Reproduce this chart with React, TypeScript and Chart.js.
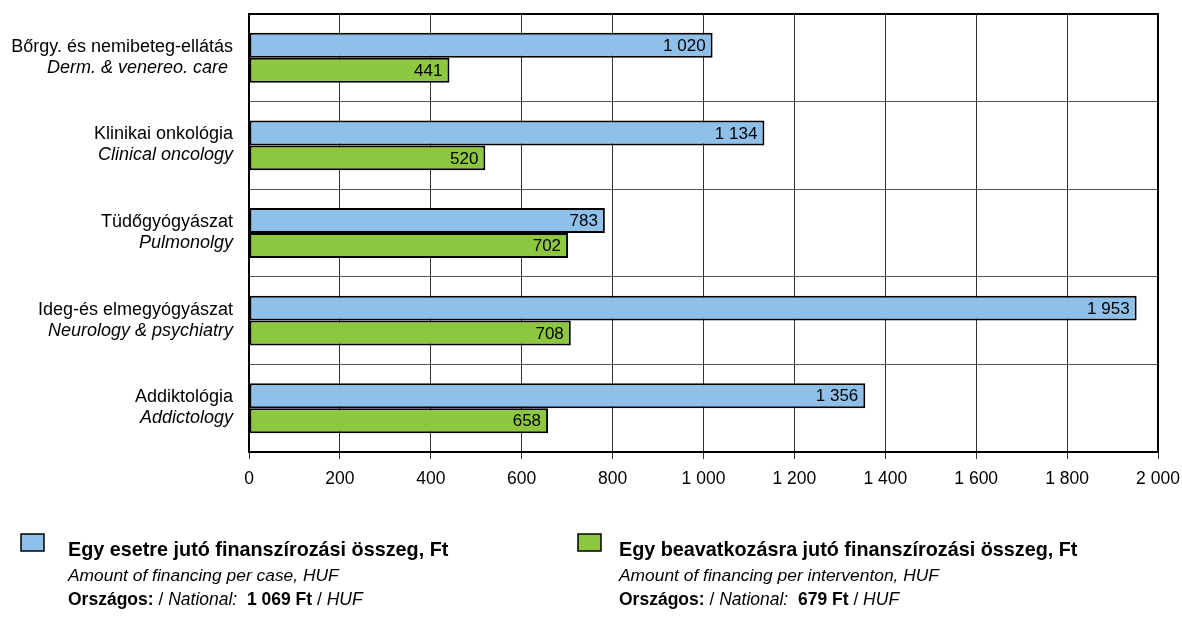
import React, { useEffect, useRef } from 'react';
import { Chart, registerables } from 'chart.js';

Chart.register(...registerables);

const categoriesHu = [
  'Bőrgy. és nemibeteg-ellátás',
  'Klinikai onkológia',
  'Tüdőgyógyászat',
  'Ideg-és elmegyógyászat',
  'Addiktológia',
];
const categoriesEn = [
  'Derm. & venereo. care ',
  'Clinical oncology',
  'Pulmonolgy',
  'Neurology & psychiatry',
  'Addictology',
];
const perCase = [1020, 1134, 783, 1953, 1356];
const perIntervention = [441, 520, 702, 708, 658];
const xMin = 0;
const xMax = 2000;
const xStep = 200;

const seriesTitles = [
  'Egy esetre jutó finanszírozási összeg, Ft',
  'Egy beavatkozásra jutó finanszírozási összeg, Ft',
];
const seriesSubtitles = [
  'Amount of financing per case, HUF',
  'Amount of financing per interventon, HUF',
];
const nationalValues = ['1 069 Ft', '679 Ft'];

const FONT = '"Liberation Sans", Arial, Helvetica, sans-serif';
const BLUE = '#8EC0E9';
const GREEN = '#8DC63F';

const fmt = (v: number) => String(v).replace(/\B(?=(\d{3})+(?!\d))/g, ' ');

const yLabelPlugin = {
  id: 'yLabels',
  afterDraw(chart: any) {
    const ctx = chart.ctx;
    const y = chart.scales.y;
    ctx.save();
    ctx.fillStyle = '#000';
    ctx.textAlign = 'right';
    ctx.textBaseline = 'middle';
    const xr = chart.chartArea.left - 16;
    categoriesHu.forEach((lab, i) => {
      const cy = y.getPixelForValue(i);
      ctx.font = `18px ${FONT}`;
      ctx.fillText(lab, xr, cy - 11);
      ctx.font = `italic 18px ${FONT}`;
      ctx.fillText(categoriesEn[i], xr, cy + 10);
    });
    ctx.restore();
  },
};

const valueLabelPlugin = {
  id: 'valueLabels',
  afterDatasetsDraw(chart: any) {
    const ctx = chart.ctx;
    ctx.save();
    ctx.fillStyle = '#000';
    ctx.textAlign = 'right';
    ctx.textBaseline = 'middle';
    ctx.font = `17px ${FONT}`;
    chart.data.datasets.forEach((ds: any, di: number) => {
      const meta = chart.getDatasetMeta(di);
      meta.data.forEach((el: any, i: number) => {
        ctx.fillText(fmt(ds.data[i]), el.x - 7, el.y + 1);
      });
    });
    ctx.restore();
  },
};

const framePlugin = {
  id: 'frame',
  afterDraw(chart: any) {
    const { left, right, top, bottom } = chart.chartArea;
    const ctx = chart.ctx;
    ctx.save();
    ctx.strokeStyle = '#000';
    ctx.lineWidth = 2;
    ctx.strokeRect(left, top, right - left, bottom - top);
    ctx.restore();
  },
};

const legendPlugin = {
  id: 'customLegend',
  afterDraw(chart: any) {
    const ctx = chart.ctx;
    const starts = [21, 578];
    const textX = [68, 619];
    ctx.save();
    chart.data.datasets.forEach((ds: any, i: number) => {
      const sx = starts[i];
      ctx.fillStyle = ds.backgroundColor;
      ctx.fillRect(sx, 534, 23, 17);
      ctx.strokeStyle = '#000';
      ctx.lineWidth = 1.5;
      ctx.strokeRect(sx, 534, 23, 17);
      ctx.fillStyle = '#000';
      ctx.textAlign = 'left';
      ctx.textBaseline = 'alphabetic';
      const tx = textX[i];
      ctx.font = `bold 19.8px ${FONT}`;
      ctx.fillText(seriesTitles[i], tx, 556);
      ctx.font = `italic 17.4px ${FONT}`;
      ctx.fillText(seriesSubtitles[i], tx, 581);
      const segs: [string, string][] = [
        ['bold', 'Országos:'],
        ['normal', ' / '],
        ['italic', 'National:'],
        ['normal', '  '],
        ['bold', nationalValues[i]],
        ['normal', ' / '],
        ['italic', 'HUF'],
      ];
      let x = tx;
      segs.forEach(([st, t]) => {
        ctx.font = `${st === 'normal' ? '' : st + ' '}17.5px ${FONT}`;
        ctx.fillText(t, x, 605);
        x += ctx.measureText(t).width;
      });
    });
    ctx.restore();
  },
};

export default function App() {
  const ref = useRef<HTMLCanvasElement | null>(null);
  useEffect(() => {
    document.body.style.margin = '0';
    if (!ref.current) return;
    const chart = new Chart(ref.current, {
      type: 'bar',
      data: {
        labels: categoriesHu,
        datasets: [
          {
            label: seriesTitles[0],
            data: perCase,
            backgroundColor: BLUE,
            borderColor: '#000',
            borderWidth: 2,
            borderSkipped: false,
            barPercentage: 1,
            categoryPercentage: 0.57,
          },
          {
            label: seriesTitles[1],
            data: perIntervention,
            backgroundColor: GREEN,
            borderColor: '#000',
            borderWidth: 2,
            borderSkipped: false,
            barPercentage: 1,
            categoryPercentage: 0.57,
          },
        ],
      },
      options: {
        indexAxis: 'y',
        animation: false,
        responsive: false,
        maintainAspectRatio: false,
        layout: { padding: { top: 14, right: 24, bottom: 115, left: 0 } },
        plugins: {
          legend: { display: false },
          tooltip: { enabled: false },
        },
        scales: {
          x: {
            min: xMin,
            max: xMax,
            ticks: {
              stepSize: xStep,
              color: '#000',
              font: { family: FONT, size: 17.5 },
              padding: 10,
              callback: (v: any) => fmt(Number(v)),
            },
            grid: { color: '#333', lineWidth: 1, tickLength: 7, tickColor: '#333' },
            border: { color: '#000', width: 2 },
            afterFit: (s: any) => {
              s.height = 50;
              s.paddingLeft = 0;
              s.paddingRight = 0;
            },
          },
          y: {
            ticks: { display: false },
            grid: { color: '#555', lineWidth: 1, drawTicks: false, offset: true },
            border: { color: '#000', width: 2 },
            afterFit: (s: any) => {
              s.width = 249;
            },
          },
        },
      },
      plugins: [yLabelPlugin, valueLabelPlugin, framePlugin, legendPlugin],
    } as any);
    return () => chart.destroy();
  }, []);
  return <canvas ref={ref} width={1182} height={617} style={{ display: 'block' }} />;
}
